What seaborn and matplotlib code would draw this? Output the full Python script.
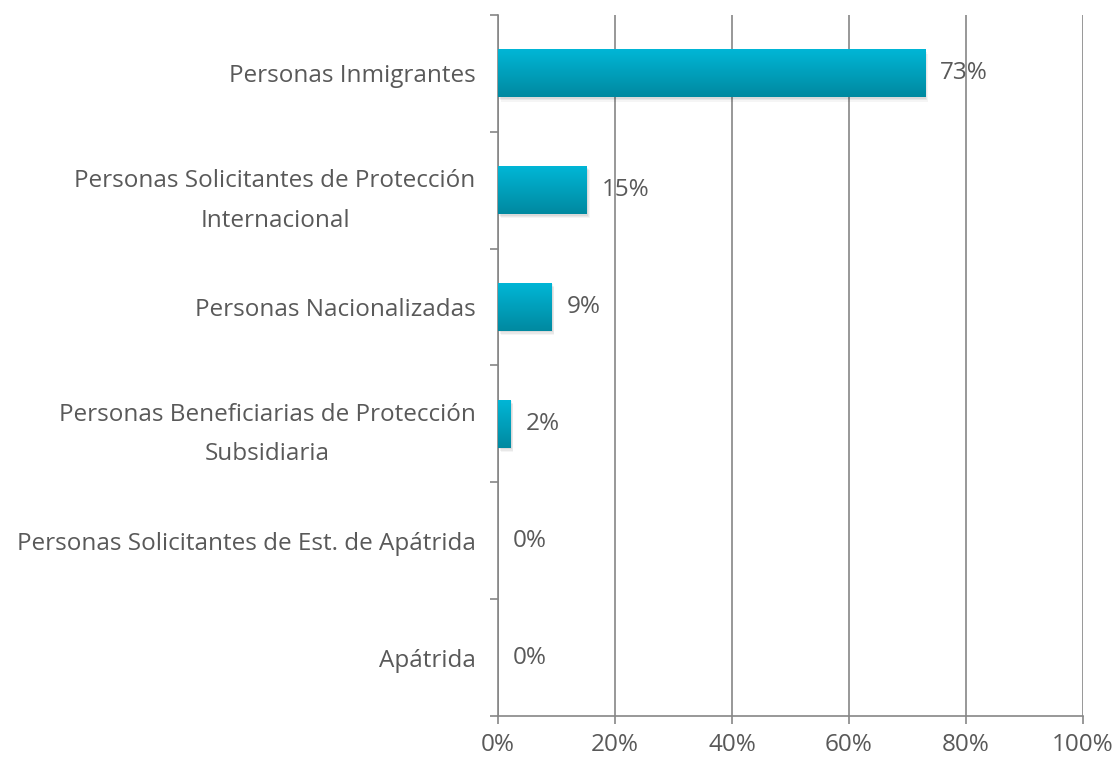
"""
Horizontal bar chart - distribución por situación administrativa
"""

import numpy as np
import pandas as pd
import matplotlib.pyplot as plt
import seaborn as sns
from matplotlib.colors import LinearSegmentedColormap
from matplotlib.patches import Rectangle
from matplotlib.ticker import FixedLocator, PercentFormatter

categories = [
    "Personas Inmigrantes",
    "Personas Solicitantes de Protección\nInternacional",
    "Personas Nacionalizadas",
    "Personas Beneficiarias de Protección\nSubsidiaria",
    "Personas Solicitantes de Est. de Apátrida",
    "Apátrida",
]
values = [73.0, 15.2, 9.2, 2.2, 0.0, 0.0]
labels = ["73%", "15%", "9%", "2%", "0%", "0%"]

sns.set_theme(style="white")
plt.rcParams['font.family'] = ['Open Sans', 'DejaVu Sans']

TEXT = "#595959"
GRID = "#868686"
FS = 17.5

df = pd.DataFrame({"categoria": categories, "valor": values})

fig = plt.figure(figsize=(11.19, 7.59), dpi=100)
ax = fig.add_axes([0.445, 0.0567, 0.5228, 0.9236])

sns.barplot(data=df, y="categoria", x="valor", orient="h", ax=ax,
            color="#00A5C2", width=0.41, zorder=3)

# gradient fill + soft shadow on each bar
cmap = LinearSegmentedColormap.from_list("teal", ["#00B6D6", "#0089A0"])
grad = np.linspace(0, 1, 100).reshape(-1, 1)
for p in ax.patches:
    p.set_edgecolor("none")
    p.set_linewidth(0)
    x0, y0 = p.get_x(), p.get_y()
    w, h = p.get_width(), p.get_height()
    if w <= 0:
        continue
    for k, a in enumerate([0.06, 0.05, 0.04]):
        ax.add_patch(Rectangle((x0 + 0.15 * (k + 1), y0 + 0.012 * (k + 1)), w, h,
                               facecolor="#000000", alpha=a, edgecolor="none",
                               zorder=2))
    im = ax.imshow(grad, cmap=cmap, aspect="auto", zorder=4,
                   extent=[x0, x0 + w, y0 + h, y0], interpolation="bicubic")
    im.set_clip_path(p)

for i, (v, lab) in enumerate(zip(values, labels)):
    ax.text(v + 2.6, i, lab, va="center", ha="left", fontsize=FS,
            color=TEXT, zorder=5)

ax.set_xlim(0, 100)
ax.set_ylim(len(categories) - 0.5, -0.5)
ax.xaxis.set_major_locator(FixedLocator([0, 20, 40, 60, 80, 100]))
ax.xaxis.set_major_formatter(PercentFormatter(decimals=0))
ax.grid(True, axis="x", color=GRID, linewidth=1.2, zorder=0)
ax.set_axisbelow(True)

ax.set_xlabel("")
ax.set_ylabel("")
for s in ["top", "right"]:
    ax.spines[s].set_visible(False)
for s in ["left", "bottom"]:
    ax.spines[s].set_color(GRID)
    ax.spines[s].set_linewidth(1.2)

ax.tick_params(axis="x", which="major", bottom=True, length=6, width=1.2,
               color=GRID, labelcolor=TEXT, labelsize=FS, pad=6)
ax.tick_params(axis="y", which="major", left=False, length=0,
               labelcolor=TEXT, labelsize=FS, pad=16)
ax.yaxis.set_minor_locator(FixedLocator(np.arange(-0.5, len(categories), 1)))
ax.tick_params(axis="y", which="minor", left=True, length=6, width=1.2,
               color=GRID)
for t in ax.get_yticklabels():
    t.set_multialignment("center")
    t.set_linespacing(1.85)

fig.savefig("out.png", dpi=100)
plt.close(fig)
